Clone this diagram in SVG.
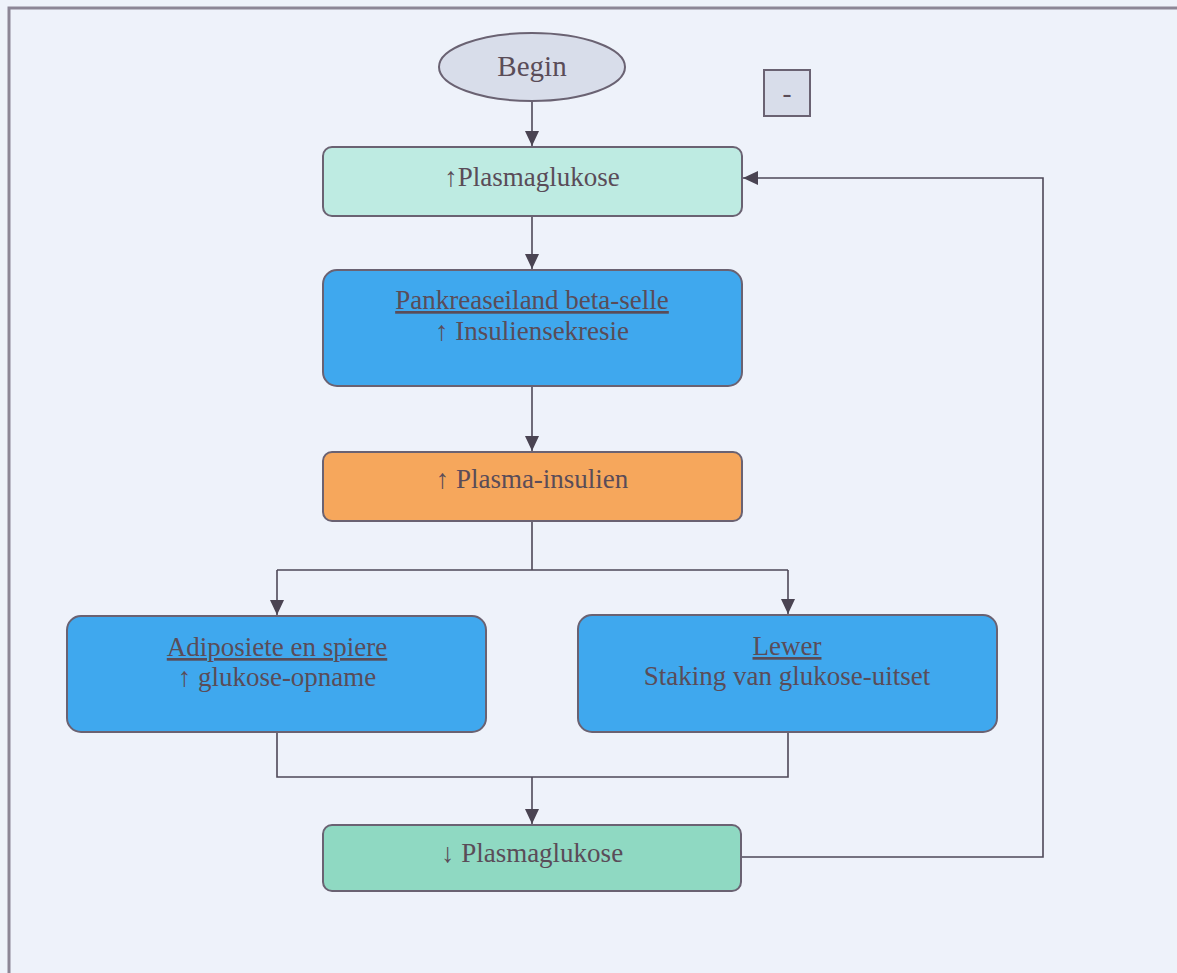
<svg xmlns="http://www.w3.org/2000/svg" width="1177" height="973" viewBox="0 0 1177 973">
<defs>
<marker id="ah" markerUnits="userSpaceOnUse" markerWidth="16" markerHeight="16" viewBox="0 0 16 16" refX="15" refY="8" orient="auto">
<path d="M0,1 L15,8 L0,15 Z" fill="#4A4452"/>
</marker>
<style>
.box{stroke:#6A6272;stroke-width:2}
.t{font-family:"Liberation Serif","Times New Roman",serif;font-size:27px;fill:#5A4C58;text-anchor:middle}
.u{text-decoration:underline}
.c{fill:none;stroke:#4E4858;stroke-width:1.6}
</style>
</defs>
<rect x="0" y="0" width="1177" height="973" fill="#EEF2FA"/>
<rect x="9" y="8" width="1180" height="980" fill="none" stroke="#8C8696" stroke-width="3"/>
<g id="connectors">
<path class="c" d="M532,101 V146" marker-end="url(#ah)"/>
<path class="c" d="M532,216 V269" marker-end="url(#ah)"/>
<path class="c" d="M532,386 V451" marker-end="url(#ah)"/>
<path class="c" d="M532,521 V570 M277,570 H788"/>
<path class="c" d="M277,570 V615" marker-end="url(#ah)"/>
<path class="c" d="M788,570 V614" marker-end="url(#ah)"/>
<path class="c" d="M277,732 V777 H788 V732"/>
<path class="c" d="M532,777 V824" marker-end="url(#ah)"/>
<path class="c" d="M741,857 H1043 V178 H743" marker-end="url(#ah)"/>
</g>
<g id="begin">
<ellipse class="box" cx="532" cy="67" rx="93" ry="34" fill="#D8DDEA"/>
<text class="t" x="532" y="76" style="font-size:29px">Begin</text>
</g>
<g id="minus">
<rect class="box" x="764" y="70" width="46" height="46" fill="#D8DDEA"/>
<text class="t" x="787" y="102">-</text>
</g>
<g id="plasmaglukose-up">
<rect class="box" x="323" y="147" width="419" height="69" rx="9" fill="#BEEBE2"/>
<text class="t" x="532" y="186">↑Plasmaglukose</text>
</g>
<g id="pankreas">
<rect class="box" x="323" y="270" width="419" height="116" rx="14" fill="#3FA8EE"/>
<text class="t u" x="532" y="309">Pankreaseiland beta-selle</text>
<text class="t" x="532" y="340">↑ Insuliensekresie</text>
</g>
<g id="plasma-insulien">
<rect class="box" x="323" y="452" width="419" height="69" rx="9" fill="#F6A75C"/>
<text class="t" x="532" y="488">↑ Plasma-insulien</text>
</g>
<g id="adiposiete">
<rect class="box" x="67" y="616" width="419" height="116" rx="14" fill="#3FA8EE"/>
<text class="t u" x="277" y="656">Adiposiete en spiere</text>
<text class="t" x="277" y="686">↑ glukose-opname</text>
</g>
<g id="lewer">
<rect class="box" x="578" y="615" width="419" height="117" rx="14" fill="#3FA8EE"/>
<text class="t u" x="787" y="655">Lewer</text>
<text class="t" x="787" y="685">Staking van glukose-uitset</text>
</g>
<g id="plasmaglukose-down">
<rect class="box" x="323" y="825" width="418" height="66" rx="9" fill="#8FD9C2"/>
<text class="t" x="532" y="862">↓ Plasmaglukose</text>
</g>
</svg>
